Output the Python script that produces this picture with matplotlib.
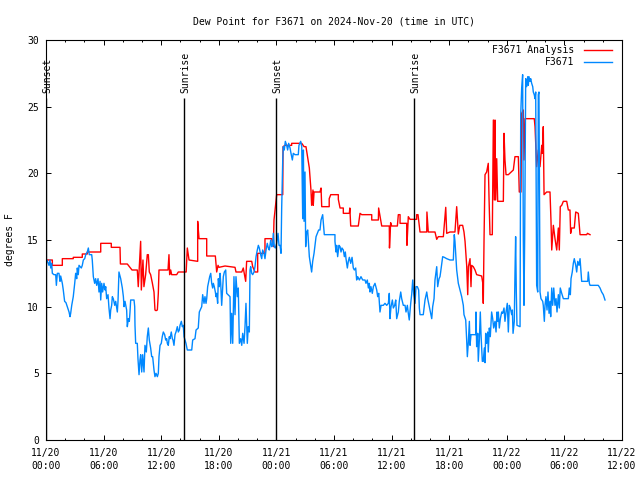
import matplotlib
matplotlib.use('Agg')
import matplotlib.pyplot as plt
from matplotlib.ticker import MultipleLocator

# hours since 2024-11-20 00:00 UTC, dew point in degrees F
red_t = [0.07, 0.66, 0.66, 1.70, 1.70, 2.84, 2.84, 3.78, 3.78, 4.30, 4.30, 5.70, 5.70, 6.80, 6.80, 7.71, 7.75, 8.47, 8.96, 9.51,
         9.61, 9.86, 9.93, 10.1, 10.2, 10.38, 10.55, 10.66, 10.76, 10.9, 11.07, 11.25, 11.35, 11.46, 11.6, 11.7, 11.77, 12.71, 12.81, 12.88,
         12.99, 13.09, 13.61, 13.78, 14.6, 14.72, 14.9, 15.8, 15.8, 15.94, 16.74, 16.74, 17.64, 17.78, 17.92, 18.02, 18.65, 19.69, 19.79, 20.39,
         20.55, 20.8, 20.9, 21.43, 21.53, 21.77, 22.05, 22.05, 22.81, 22.81, 23.51, 23.68, 23.75, 24.03, 24.66, 24.69, 24.9, 25.59, 25.59, 26.64,
         26.88, 27.08, 27.43, 27.6, 27.67, 27.81, 27.84, 27.92, 28.54, 28.65, 28.72, 29.5, 29.5, 29.66, 30.45, 30.45, 30.63, 30.97, 30.97, 31.6,
         31.65, 31.74, 32.53, 32.71, 32.89, 33.93, 33.93, 34.62, 34.65, 34.97, 35.76, 35.78, 35.9, 36.01, 36.6, 36.7, 36.88, 36.88, 37.57, 37.6,
         37.74, 37.92, 38.61, 38.61, 38.75, 38.96, 39.66, 39.68, 39.82, 40.52, 40.7, 40.86, 41.39, 41.64, 41.74, 42.08, 42.6, 42.78, 42.95, 43.1,
         43.4, 43.54, 43.65, 43.82, 43.93, 44.0, 44.17, 44.27, 44.34, 44.51, 44.69, 44.86, 45.38, 45.49, 45.55, 45.63, 45.73, 45.9, 46.07, 46.15,
         46.25, 46.49, 46.6, 46.7, 46.77, 46.84, 46.95, 47.05, 47.64, 47.71, 47.81, 47.92, 48.16, 48.68, 48.85, 49.2, 49.3, 49.48, 49.55, 49.72,
         49.79, 49.9, 50.86, 50.94, 51.11, 51.28, 51.46, 51.64, 51.7, 51.8, 51.88, 52.15, 52.5, 52.6, 52.68, 52.85, 53.02, 53.2, 53.37, 53.47,
         53.57, 53.72, 53.89, 54.24, 54.41, 54.58, 54.65, 54.76, 55.03, 55.18, 55.45, 55.63, 56.32, 56.4, 56.67]
red_v = [13.5, 13.5, 13.1, 13.1, 13.6, 13.6, 13.7, 13.7, 13.95, 13.95, 14.1, 14.1, 14.75, 14.75, 14.45, 14.45, 13.2, 13.2, 12.75, 12.75,
         11.5, 14.9, 11.25, 13.5, 11.5, 12.4, 13.9, 13.9, 12.6, 12.4, 11.8, 11.1, 9.75, 9.7, 9.75, 11.0, 12.75, 12.75, 13.9, 12.4,
         12.75, 12.4, 12.4, 12.6, 12.6, 14.4, 13.5, 13.4, 16.4, 15.1, 15.1, 13.8, 13.8, 12.6, 13.1, 12.95, 13.05, 12.95, 12.6, 12.6,
         12.9, 11.9, 13.4, 13.4, 13.0, 12.6, 12.6, 14.0, 14.0, 15.1, 15.1, 14.5, 16.5, 18.4, 18.4, 22.0, 22.1, 22.1, 22.25, 22.25,
         22.0, 22.0, 20.4, 18.75, 17.6, 18.75, 17.6, 18.6, 18.6, 18.9, 17.5, 17.5, 18.1, 18.4, 18.4, 18.05, 17.4, 17.4, 17.0, 17.0,
         17.4, 16.05, 16.05, 17.0, 16.9, 16.9, 16.5, 16.5, 17.4, 16.05, 16.05, 14.4, 16.3, 16.05, 16.05, 16.9, 16.9, 16.25, 16.25, 14.6,
         16.75, 16.55, 16.55, 16.9, 16.9, 15.6, 15.6, 17.1, 15.6, 15.6, 15.05, 15.25, 15.25, 17.45, 15.5, 15.6, 15.6, 17.5, 15.45, 16.1,
         16.1, 15.6, 14.9, 13.1, 10.9, 13.0, 13.6, 11.5, 13.1, 13.0, 12.75, 12.4, 12.3, 11.8, 10.25, 15.1, 19.9, 20.1, 20.75, 18.1,
         15.4, 15.4, 24.0, 18.0, 24.0, 18.0, 21.1, 17.9, 17.9, 23.0, 21.0, 19.9, 19.9, 20.25, 21.25, 21.25, 18.6, 18.6, 24.5, 24.75,
         21.0, 24.1, 24.1, 23.5, 20.5, 21.75, 20.5, 22.1, 21.5, 23.5, 18.4, 18.6, 18.6, 16.5, 14.25, 16.1, 15.1, 14.25, 15.9, 14.25,
         17.5, 17.6, 17.9, 17.9, 17.25, 17.25, 15.5, 15.9, 15.9, 17.1, 17.0, 15.4, 15.4, 15.5, 15.4]

blue_t = [0.07, 0.21, 0.31, 0.42, 0.49, 0.59, 0.66, 0.83, 1.01, 1.08, 1.18, 1.35, 1.46, 1.53, 1.7, 1.8, 1.94, 2.08, 2.22, 2.4,
          2.5, 2.57, 2.68, 2.84, 2.99, 3.09, 3.2, 3.26, 3.36, 3.44, 3.68, 3.78, 3.89, 4.03, 4.14, 4.3, 4.41, 4.51, 4.76, 4.82,
          4.93, 5.07, 5.17, 5.28, 5.42, 5.52, 5.63, 5.7, 5.8, 5.9, 6.04, 6.15, 6.22, 6.32, 6.46, 6.56, 6.67, 6.74, 6.84, 6.91,
          7.01, 7.16, 7.26, 7.43, 7.5, 7.6, 7.78, 7.95, 8.06, 8.13, 8.23, 8.4, 8.47, 8.58, 8.68, 8.75, 8.82, 9.17, 9.24, 9.27,
          9.34, 9.51, 9.58, 9.69, 9.79, 9.86, 9.97, 10.07, 10.21, 10.31, 10.45, 10.55, 10.66, 10.76, 10.9, 11.01, 11.11, 11.25, 11.35, 11.46,
          11.6, 11.7, 11.77, 11.88, 12.01, 12.11, 12.22, 12.36, 12.47, 12.57, 12.64, 12.74, 12.84, 12.92, 13.05, 13.16, 13.23, 13.33, 13.44, 13.54,
          13.68, 13.78, 13.89, 13.96, 14.03, 14.1, 14.2, 14.3, 14.38, 14.48, 14.58, 14.72, 15.18, 15.28, 15.52, 15.63, 15.86, 15.97, 16.22, 16.32,
          16.46, 16.56, 16.67, 16.74, 16.84, 16.95, 17.05, 17.16, 17.26, 17.36, 17.43, 17.53, 17.64, 17.71, 17.78, 17.88, 17.95, 18.05, 18.13, 18.2,
          18.3, 18.41, 18.47, 18.58, 18.72, 18.82, 19.17, 19.24, 19.34, 19.45, 19.51, 19.58, 19.69, 19.79, 19.93, 20.03, 20.14, 20.28, 20.39, 20.49,
          20.63, 20.73, 20.83, 20.97, 21.07, 21.18, 21.25, 21.32, 21.43, 21.53, 21.67, 21.77, 21.88, 22.01, 22.12, 22.22, 22.36, 22.47, 22.57, 22.71,
          22.81, 22.92, 23.05, 23.16, 23.26, 23.41, 23.51, 23.61, 23.68, 23.78, 23.89, 24.03, 24.17, 24.27, 24.38, 24.48, 24.55, 24.66, 24.72, 24.82,
          24.93, 25.07, 25.17, 25.28, 25.42, 25.52, 25.66, 25.76, 25.94, 26.28, 26.35, 26.53, 26.64, 26.74, 26.81, 26.88, 26.98, 27.05, 27.15, 27.26,
          27.43, 27.57, 27.67, 27.78, 27.92, 28.02, 28.13, 28.26, 28.4, 28.54, 28.65, 28.82, 28.89, 28.99, 30.1, 30.1, 30.21, 30.28, 30.38, 30.52,
          30.63, 30.73, 30.83, 30.97, 31.08, 31.18, 31.25, 31.39, 31.49, 31.6, 31.74, 31.88, 32.01, 32.12, 32.26, 32.36, 32.47, 32.64, 32.81, 32.99,
          33.23, 33.33, 33.47, 33.58, 33.68, 33.75, 33.85, 33.99, 34.1, 34.27, 34.45, 34.55, 34.66, 34.79, 34.9, 35.14, 35.31, 35.49, 35.66, 35.76,
          35.83, 35.94, 36.08, 36.18, 36.32, 36.43, 36.53, 36.7, 36.8, 36.95, 37.05, 37.22, 37.4, 37.5, 37.64, 37.74, 37.84, 37.99, 38.09, 38.2,
          38.3, 38.44, 38.54, 38.68, 38.82, 38.89, 38.96, 39.3, 39.48, 39.66, 39.76, 39.86, 40.0, 40.18, 40.28, 40.42, 40.52, 40.7, 40.8, 40.94,
          41.04, 41.11, 41.32, 41.49, 41.74, 42.08, 42.43, 42.53, 42.6, 42.78, 42.95, 43.13, 43.3, 43.47, 43.54, 43.72, 43.82, 43.89, 44.0, 44.1,
          44.17, 44.27, 44.76, 44.79, 44.86, 44.97, 45.03, 45.14, 45.24, 45.31, 45.45, 45.55, 45.66, 45.73, 45.8, 45.9, 46.01, 46.07, 46.18, 46.28,
          46.42, 46.53, 46.63, 46.77, 46.88, 46.98, 47.05, 47.12, 47.22, 47.33, 47.47, 47.57, 47.71, 47.81, 47.92, 48.05, 48.16, 48.26, 48.37, 48.51,
          48.58, 48.65, 48.78, 48.85, 48.92, 48.99, 49.06, 49.38, 49.45, 49.55, 49.65, 49.72, 49.79, 49.86, 49.97, 50.07, 50.18, 50.24, 50.31, 50.42,
          50.49, 50.59, 50.7, 50.76, 50.86, 50.94, 51.01, 51.11, 51.22, 51.28, 51.35, 51.46, 51.56, 51.74, 51.8, 51.91, 51.98, 52.08, 52.19, 52.29,
          52.4, 52.5, 52.57, 52.68, 52.78, 52.89, 53.02, 53.13, 53.23, 53.37, 53.47, 53.57, 53.72, 53.89, 54.41, 54.51, 54.62, 54.69, 54.82, 54.93,
          55.03, 55.18, 55.28, 55.39, 55.52, 55.63, 55.73, 55.8, 56.43, 56.49, 56.6, 56.67, 57.53, 57.71, 57.88, 58.05, 58.23]
blue_v = [13.5, 13.3, 13.1, 13.5, 12.9, 13.25, 12.5, 12.4, 12.4, 11.6, 12.5, 12.5, 11.9, 12.3, 11.75, 11.25, 10.4, 10.3, 10.0, 9.6,
          9.25, 9.5, 10.1, 10.75, 11.75, 12.5, 12.1, 12.9, 12.4, 13.1, 12.9, 13.1, 13.5, 13.6, 13.9, 14.1, 14.4, 13.9, 13.9, 13.5,
          12.25, 11.75, 12.1, 11.6, 12.1, 11.1, 11.9, 10.5, 11.75, 11.1, 11.75, 11.25, 11.5, 10.6, 10.9, 9.9, 9.1, 9.75, 10.1, 10.75,
          10.6, 10.1, 10.4, 9.6, 10.4, 12.6, 12.1, 11.4, 10.75, 10.0, 10.4, 9.75, 8.5, 9.1, 8.9, 9.6, 10.5, 10.5, 10.0, 8.6,
          7.25, 7.25, 6.1, 4.9, 6.0, 6.4, 5.1, 6.4, 5.1, 7.1, 6.6, 7.75, 8.4, 7.5, 6.9, 6.25, 6.25, 5.25, 4.75, 5.0,
          4.75, 5.0, 6.25, 7.1, 7.25, 7.75, 8.1, 7.9, 7.5, 7.6, 7.25, 7.1, 7.75, 7.6, 8.1, 7.6, 7.5, 7.1, 7.9, 8.1,
          8.5, 8.1, 8.25, 8.6, 8.75, 8.9, 8.5, 8.6, 7.75, 7.5, 7.25, 6.75, 6.75, 7.5, 7.6, 8.25, 8.4, 9.6, 10.0, 10.9,
          10.25, 10.75, 10.25, 10.6, 11.5, 11.9, 12.25, 12.5, 11.75, 11.4, 11.75, 11.5, 11.1, 10.75, 11.0, 10.25, 12.1, 11.5, 12.5, 11.75,
          10.1, 11.5, 12.25, 12.6, 12.75, 11.0, 10.75, 7.25, 9.5, 7.25, 9.4, 12.25, 9.4, 12.25, 10.75, 11.4, 7.25, 7.6, 7.1, 8.0,
          7.25, 8.5, 10.25, 7.25, 8.5, 8.1, 12.75, 13.0, 12.5, 12.4, 12.6, 13.0, 13.75, 14.25, 14.6, 14.4, 13.9, 13.6, 14.25, 14.0,
          13.6, 14.25, 14.75, 14.4, 14.25, 15.0, 14.5, 14.6, 15.5, 14.5, 14.4, 14.75, 15.5, 14.6, 14.6, 14.0, 17.4, 21.0, 22.0, 21.75,
          22.4, 22.1, 21.75, 22.25, 21.9, 21.5, 21.0, 21.5, 21.4, 21.4, 22.1, 22.4, 22.0, 16.6, 21.75, 16.4, 20.1, 14.5, 15.6, 15.75,
          13.75, 13.1, 12.6, 13.4, 14.0, 14.6, 15.25, 15.5, 15.75, 15.75, 16.5, 16.9, 16.25, 15.4, 15.4, 14.9, 14.1, 14.6, 13.75, 14.6,
          14.5, 14.1, 14.4, 14.25, 13.75, 14.1, 13.6, 12.9, 13.4, 13.7, 13.25, 13.7, 12.9, 12.75, 12.9, 12.0, 12.25, 12.0, 12.25, 12.0,
          12.0, 11.75, 12.0, 11.4, 11.75, 11.1, 11.5, 11.0, 11.5, 11.75, 11.25, 10.75, 11.0, 9.6, 10.1, 10.1, 10.25, 10.1, 10.25, 11.0,
          9.1, 10.0, 10.5, 9.9, 10.1, 10.5, 9.1, 9.6, 10.4, 11.1, 10.6, 10.1, 10.1, 9.6, 10.1, 9.5, 9.0, 10.25, 10.9, 12.0,
          11.0, 10.25, 11.5, 11.5, 11.25, 9.9, 9.4, 9.4, 10.5, 11.1, 10.6, 10.25, 9.75, 9.1, 10.0, 10.6, 12.0, 13.0, 11.5, 12.1,
          12.25, 12.6, 13.75, 13.7, 13.6, 13.5, 13.5, 15.4, 14.9, 12.75, 11.75, 11.25, 10.75, 10.1, 9.4, 9.0, 7.5, 6.25, 7.4, 8.9,
          7.1, 7.9, 7.9, 9.6, 7.0, 8.0, 5.9, 7.5, 9.6, 8.0, 5.9, 5.9, 6.9, 5.8, 8.0, 7.25, 8.1, 6.6, 8.4, 7.75,
          9.6, 9.1, 8.4, 8.9, 8.1, 9.6, 8.9, 9.6, 8.4, 9.1, 9.6, 9.5, 9.9, 8.9, 9.6, 10.25, 8.1, 10.1, 9.9, 9.4,
          9.75, 8.0, 8.9, 12.4, 15.25, 11.1, 8.6, 8.5, 24.4, 26.4, 27.4, 15.1, 10.1, 15.1, 27.1, 26.5, 27.25, 26.6, 27.25, 26.9,
          27.1, 26.75, 26.5, 26.1, 25.9, 25.6, 26.1, 11.6, 11.1, 25.9, 26.1, 11.1, 10.6, 10.4, 10.1, 8.9, 10.1, 10.75, 9.75, 11.1,
          9.5, 10.4, 9.25, 11.4, 10.1, 11.4, 10.1, 10.6, 9.6, 10.9, 9.9, 11.4, 11.0, 10.6, 10.6, 11.4, 10.9, 12.1, 12.6, 13.25,
          13.6, 13.1, 12.6, 13.4, 13.1, 13.6, 12.6, 11.9, 11.9, 12.6, 11.75, 11.6, 11.6, 11.4, 11.1, 10.9, 10.5]

sun_t = [0.0, 14.41, 23.96, 38.35]
sun_labels = ['Sunset', 'Sunrise', 'Sunset', 'Sunrise']

xtick_pos = [0, 6, 12, 18, 24, 30, 36, 42, 48, 54, 60]
xtick_labels = ['11/20\n00:00', '11/20\n06:00', '11/20\n12:00', '11/20\n18:00',
                '11/21\n00:00', '11/21\n06:00', '11/21\n12:00', '11/21\n18:00',
                '11/22\n00:00', '11/22\n06:00', '11/22\n12:00']

plt.rcParams['font.family'] = ['DejaVu Sans Mono']
plt.rcParams['font.size'] = 7

fig = plt.figure(figsize=(6.4, 4.8), dpi=100)
ax = fig.add_axes([46 / 640, 40 / 480, 576 / 640, 400 / 480])

red = '#ff0000'
blue = '#0088ff'
ax.plot(red_t, red_v, color=red, lw=1.0)
ax.plot(blue_t, blue_v, color=blue, lw=1.0)

for t, lab in zip(sun_t, sun_labels):
    ax.vlines(t, 0, 25.65, color='black', lw=1.0)
    ax.text(t + 0.1, 26.05, lab, rotation=90, ha='center', va='bottom')

ax.set_xlim(0, 60)
ax.set_ylim(0, 30)
ax.set_xticks(xtick_pos)
ax.set_xticklabels(xtick_labels, linespacing=1.35)
ax.xaxis.set_minor_locator(MultipleLocator(2))
ax.set_yticks(range(0, 31, 5))
ax.tick_params(which='both', direction='in', top=True, right=True, width=0.7)
ax.tick_params(which='major', length=3.3)
ax.tick_params(which='minor', length=1.7)
ax.tick_params(axis='x', pad=6)
ax.tick_params(axis='y', pad=5)
for s in ax.spines.values():
    s.set_linewidth(0.8)

ax.set_title('Dew Point for F3671 on 2024-Nov-20 (time in UTC)', fontsize=7, pad=11)
fig.text(10 / 640, 0.5, 'degrees F', rotation=90, ha='center', va='center')

# legend drawn by hand: right aligned text, line sample to the right
legend_rows = [('F3671 Analysis', red, 0.975), ('F3671', blue, 0.944)]
for lab, col, yy in legend_rows:
    ax.text(0.917, yy, lab, ha='right', va='center', transform=ax.transAxes)
    ax.plot([0.9335, 0.9826], [yy, yy], color=col, lw=1.0, transform=ax.transAxes)

fig.savefig('out.png', dpi=100)
